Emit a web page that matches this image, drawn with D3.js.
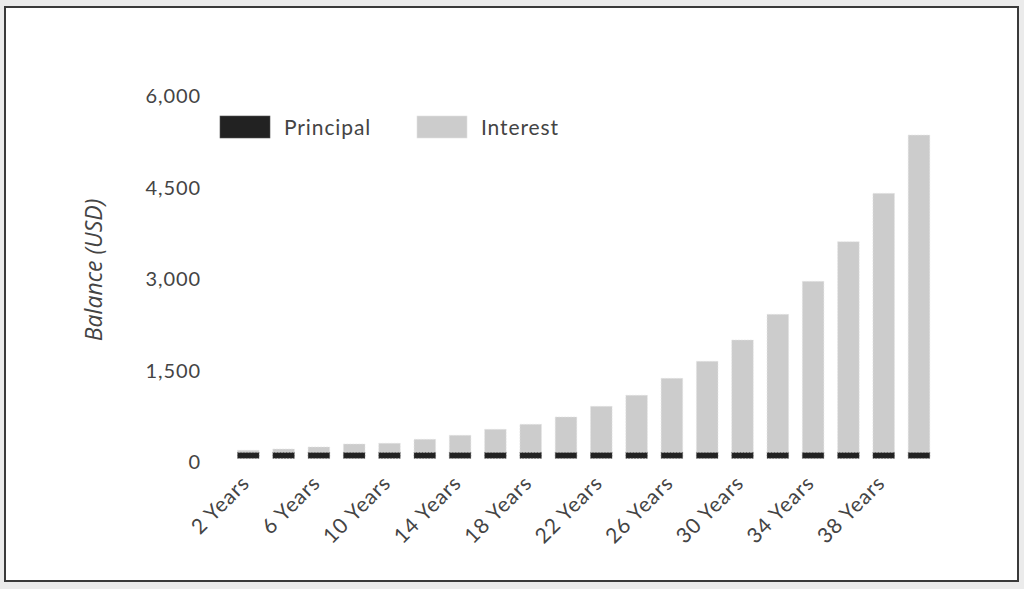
<!DOCTYPE html>
<html>
<head>
<meta charset="utf-8">
<script src="https://cdn.jsdelivr.net/npm/d3@7/dist/d3.min.js"></script>
<style>
  html, body { margin: 0; padding: 0; background: #ebebeb; }
  svg { display: block; }
</style>
</head>
<body>
<svg id="chart" width="1024" height="589"></svg>
<script>
const categories = ["2 Years","4 Years","6 Years","8 Years","10 Years","12 Years","14 Years","16 Years","18 Years","20 Years",
  "22 Years","24 Years","26 Years","28 Years","30 Years","32 Years","34 Years","36 Years","38 Years","40 Years"];
const principal = [100,100,100,100,100,100,100,100,100,100,100,100,100,100,100,100,100,100,100,100];
const interest = [31,52,85,134,146,211,277,375,457,577,752,933,1211,1490,1839,2260,2801,3450,4243,5199];
const xTickLabels = ["2 Years","6 Years","10 Years","14 Years","18 Years","22 Years","26 Years","30 Years","34 Years","38 Years"];
const yTicks = [0,1500,3000,4500,6000];
const seriesNames = ["Principal","Interest"];
const seriesColors = ["#222222","#cccccc"];

const svg = d3.select("#chart");

// panel
svg.append("rect").attr("x",5).attr("y",7).attr("width",1013).attr("height",574)
  .attr("fill","#ffffff").attr("stroke","#3a3a3a").attr("stroke-width",2);

const x = d3.scaleBand().domain(categories).range([230.65, 936.65]).paddingInner(0.39).paddingOuter(0.195);
const y = d3.scaleLinear().domain([0,6000]).range([458.3, 92.3]);

const rows = categories.map((c,i)=>({cat:c, Principal:principal[i], Interest:interest[i]}));
const stack = d3.stack().keys(seriesNames)(rows);

const g = svg.append("g");
stack.forEach((layer, li) => {
  g.selectAll(null).data(layer).enter().append("rect")
    .attr("x", d => x(d.data.cat))
    .attr("width", x.bandwidth())
    .attr("y", d => y(d[1]))
    .attr("height", d => y(d[0]) - y(d[1]))
    .attr("fill", seriesColors[li])
    .attr("stroke", li === 0 ? "#555" : "#e2e2e2")
    .attr("stroke-width", 0.6)
    .attr("stroke-dasharray", "2,1");
});

// y axis labels
const font = "Lato, 'Open Sans', sans-serif";
const yAxis = d3.axisLeft(y).tickValues(yTicks).tickFormat(d3.format(",")).tickSize(0).tickPadding(0);
const ya = svg.append("g").attr("transform","translate(201,4)").call(yAxis);
ya.select(".domain").remove();
ya.selectAll("text").attr("font-family", font).attr("font-size", 20).attr("fill","#444")
  .attr("letter-spacing", "0.9px");

// x axis labels
const xAxis = d3.axisBottom(x).tickValues(xTickLabels).tickSize(0).tickPadding(0);
const xa = svg.append("g").call(xAxis);
xa.select(".domain").remove();
xa.selectAll(".tick").attr("transform", d => `translate(${x(d) + x.bandwidth()/2 - 8},474)`);
xa.selectAll("text")
  .attr("font-family", font).attr("font-size", 21).attr("fill","#444")
  .attr("letter-spacing", "0.9px")
  .attr("text-anchor","end").attr("x",0).attr("y",0).attr("dy","0.71em")
  .attr("transform","rotate(-45)");

// y title
svg.append("text")
  .attr("transform","translate(102,270) rotate(-90)")
  .attr("text-anchor","middle")
  .attr("font-family","'Open Sans', sans-serif").attr("font-style","italic")
  .attr("font-size", 23).attr("fill","#444")
  .text("Balance (USD)");

// legend
const legendX = [220, 417];
seriesNames.forEach((name, i) => {
  svg.append("rect").attr("x", legendX[i]).attr("y",116).attr("width",50).attr("height",22)
    .attr("fill", seriesColors[i]).attr("stroke", i===0 ? "#555" : "#e2e2e2").attr("stroke-width",0.6);
  svg.append("text").attr("x", legendX[i] + 64).attr("y", 135)
    .attr("font-family", font).attr("font-size", 21).attr("fill","#444")
    .attr("letter-spacing","0.9px")
    .text(name);
});
</script>
</body>
</html>
